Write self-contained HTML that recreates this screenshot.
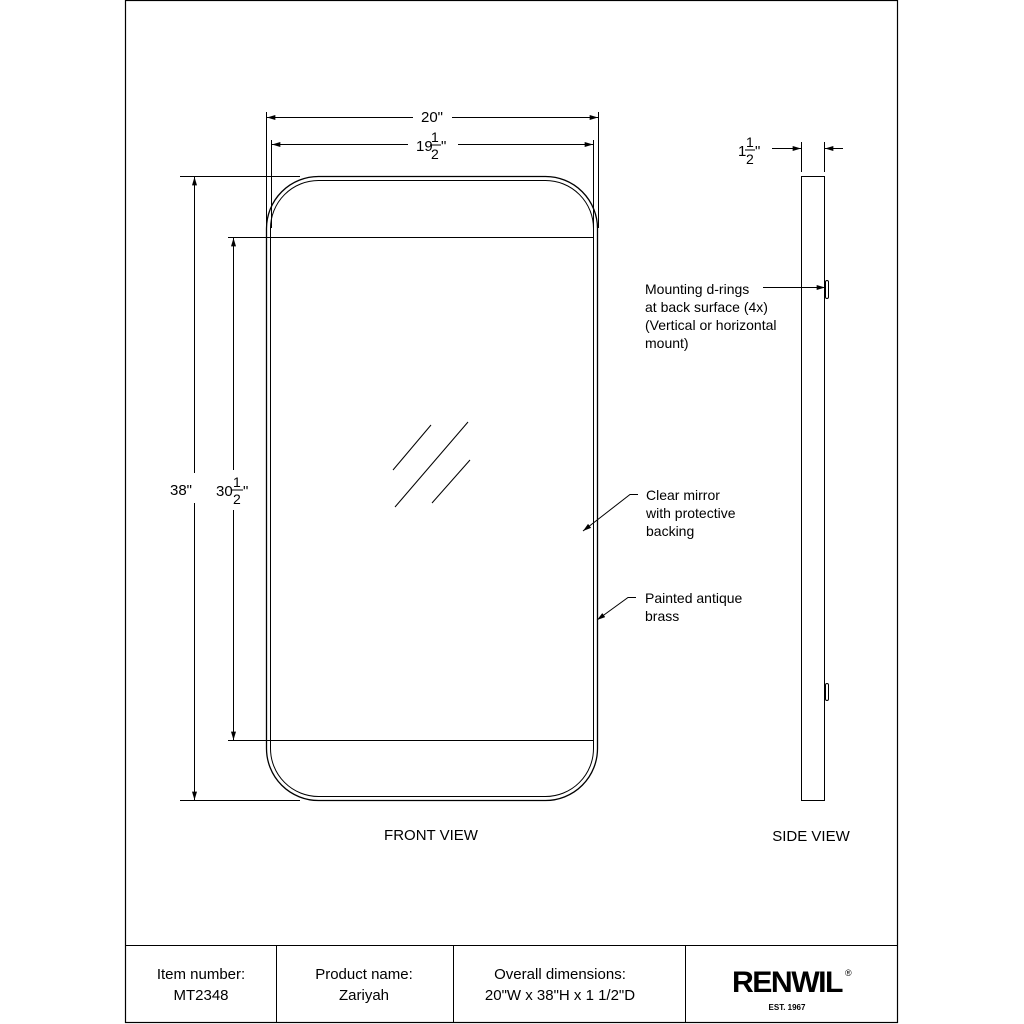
<!DOCTYPE html>
<html><head><style>
body{margin:0;background:#fff;}
svg{display:block;font-family:"Liberation Sans",Arial,sans-serif;}
</style></head><body>
<svg width="1024" height="1024" viewBox="0 0 1024 1024">
<defs>
<marker id="a" viewBox="0 0 10 6" refX="10" refY="3" markerWidth="10" markerHeight="5" orient="auto-start-reverse" markerUnits="userSpaceOnUse"><path d="M0,0 L10,3 L0,6z" fill="#000"/></marker>
</defs>
<g fill="none" stroke="#000" stroke-width="1">
<rect x="125.5" y="0.5" width="772" height="1022" stroke-width="1.2"/>
<line x1="125" y1="945.5" x2="898" y2="945.5"/>
<line x1="276.5" y1="945" x2="276.5" y2="1023"/>
<line x1="453.5" y1="945" x2="453.5" y2="1023"/>
<line x1="685.5" y1="945" x2="685.5" y2="1023"/>
<!-- mirror -->
<rect x="266.5" y="176.5" width="331" height="624" rx="52" ry="52" stroke-width="1.3"/>
<rect x="270.5" y="180.5" width="323" height="616" rx="48" ry="48"/>
<line x1="271" y1="237.5" x2="593" y2="237.5"/>
<line x1="271" y1="740.5" x2="593" y2="740.5"/>
<line x1="393" y1="470" x2="431" y2="425"/>
<line x1="395" y1="507" x2="468" y2="422"/>
<line x1="432" y1="503" x2="470" y2="460"/>
<!-- top dims -->
<line x1="266.5" y1="112" x2="266.5" y2="228"/>
<line x1="598.5" y1="112" x2="598.5" y2="228"/>
<line x1="271.5" y1="140" x2="271.5" y2="228"/>
<line x1="593.5" y1="140" x2="593.5" y2="228"/>
<line x1="267" y1="117.5" x2="413" y2="117.5" marker-start="url(#a)"/>
<line x1="452" y1="117.5" x2="598" y2="117.5" marker-end="url(#a)"/>
<line x1="272" y1="144.5" x2="408" y2="144.5" marker-start="url(#a)"/>
<line x1="458" y1="144.5" x2="593" y2="144.5" marker-end="url(#a)"/>
<!-- left dims -->
<line x1="180" y1="176.5" x2="300" y2="176.5"/>
<line x1="180" y1="800.5" x2="300" y2="800.5"/>
<line x1="228" y1="237.5" x2="271" y2="237.5"/>
<line x1="228" y1="740.5" x2="271" y2="740.5"/>
<line x1="194.5" y1="177" x2="194.5" y2="473" marker-start="url(#a)"/>
<line x1="194.5" y1="503" x2="194.5" y2="800" marker-end="url(#a)"/>
<line x1="233.5" y1="238" x2="233.5" y2="470" marker-start="url(#a)"/>
<line x1="233.5" y1="510" x2="233.5" y2="740" marker-end="url(#a)"/>
<!-- side view -->
<rect x="801.5" y="176.5" width="23" height="624"/>
<line x1="801.5" y1="142" x2="801.5" y2="172"/>
<line x1="824.5" y1="142" x2="824.5" y2="172"/>
<line x1="772" y1="148.5" x2="801" y2="148.5" marker-end="url(#a)"/>
<line x1="843" y1="148.5" x2="825" y2="148.5" marker-end="url(#a)"/>
<rect x="825.5" y="280.5" width="3" height="18" rx="1.5"/>
<rect x="825.5" y="683.5" width="3" height="17" rx="1.5"/>
<line x1="763" y1="287.5" x2="825" y2="287.5" marker-end="url(#a)"/>
<!-- leaders -->
<polyline points="638,494.5 630,494.5 583,531" marker-end="url(#a)"/>
<polyline points="636,597.5 628,597.5 597,620" marker-end="url(#a)"/>
</g>
<g fill="#000" font-size="14">
<text x="432" y="122" text-anchor="middle" font-size="15">20"</text>
<text x="416" y="151" font-size="15">19</text><text x="431" y="142" font-size="14">1</text><text x="431" y="159" font-size="14">2</text><text x="441" y="151" font-size="15">"</text>
<line x1="430" y1="145" x2="441" y2="145" stroke="#000"/>
<text x="181" y="495" text-anchor="middle" font-size="15">38"</text>
<text x="216" y="496" font-size="15">30</text><text x="233" y="487" font-size="14">1</text><text x="233" y="504" font-size="14">2</text><text x="243" y="496" font-size="15">"</text>
<line x1="232" y1="490" x2="243" y2="490" stroke="#000"/>
<text x="738" y="156" font-size="15">1</text><text x="746" y="147" font-size="14">1</text><text x="746" y="164" font-size="14">2</text><text x="755" y="156" font-size="15">"</text>
<line x1="745" y1="150" x2="755" y2="150" stroke="#000"/>
<text x="645" y="294">Mounting d-rings</text>
<text x="645" y="312">at back surface (4x)</text>
<text x="645" y="330">(Vertical or horizontal</text>
<text x="645" y="348">mount)</text>
<text x="646" y="500">Clear mirror</text>
<text x="646" y="518">with protective</text>
<text x="646" y="536">backing</text>
<text x="645" y="603">Painted antique</text>
<text x="645" y="621">brass</text>
<text x="431" y="840" text-anchor="middle" font-size="15">FRONT VIEW</text>
<text x="811" y="841" text-anchor="middle" font-size="15">SIDE VIEW</text>
<text x="201" y="979" text-anchor="middle" font-size="15">Item number:</text>
<text x="201" y="1000" text-anchor="middle" font-size="15">MT2348</text>
<text x="364" y="979" text-anchor="middle" font-size="15">Product name:</text>
<text x="364" y="1000" text-anchor="middle" font-size="15">Zariyah</text>
<text x="560" y="979" text-anchor="middle" font-size="15">Overall dimensions:</text>
<text x="560" y="1000" text-anchor="middle" font-size="15">20"W x 38"H x 1 1/2"D</text>
<text x="787" y="992" text-anchor="middle" font-size="30" font-weight="bold" letter-spacing="-1.5" textLength="110" lengthAdjust="spacingAndGlyphs">RENWIL</text>
<text x="845" y="976" font-size="9">®</text>
<text x="787" y="1010" text-anchor="middle" font-size="8" font-weight="bold">EST. 1967</text>
</g>
</svg>
</body></html>
